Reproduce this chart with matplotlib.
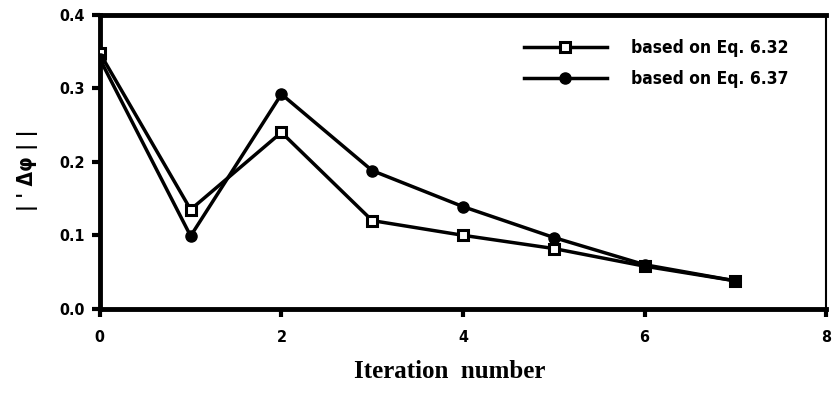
import matplotlib
matplotlib.use("Agg")
import matplotlib.pyplot as plt

iterations = [0, 1, 2, 3, 4, 5, 6, 7]
eq632 = [0.348, 0.135, 0.240, 0.120, 0.100, 0.082, 0.058, 0.038]
eq637 = [0.340, 0.099, 0.292, 0.188, 0.139, 0.097, 0.060, 0.038]
series_labels = ["based on Eq. 6.32", "based on Eq. 6.37"]
xticks = [0, 2, 4, 6, 8]
yticks = [0.0, 0.1, 0.2, 0.3, 0.4]

sans = "DejaVu Sans"
tick_font = dict(family=sans, weight="bold", stretch="condensed", size=11.5)

fig = plt.figure(figsize=(8.32, 4.0), dpi=100)
ax = fig.add_axes([0.120, 0.228, 0.873, 0.735])

ax.plot(iterations, eq632, color="black", lw=2.5, marker="s", ms=7.5,
        mfc="white", mec="black", mew=2.2, label=series_labels[0], zorder=3)
ax.plot(iterations, eq637, color="black", lw=2.5, marker="o", ms=8,
        mfc="black", mec="black", label=series_labels[1], zorder=3)

ax.set_xlim(0, 8)
ax.set_ylim(0, 0.4)
ax.set_xticks(xticks)
ax.set_yticks(yticks)
ax.set_xticklabels([str(v) for v in xticks], **tick_font)
ax.set_yticklabels([f"{v:.1f}" for v in yticks], **tick_font)
ax.tick_params(axis="x", direction="out", length=6, width=3, pad=9)
ax.tick_params(axis="y", direction="out", length=6, width=3, pad=5)

for side in ["left", "bottom", "top"]:
    ax.spines[side].set_linewidth(3.5)
ax.spines["right"].set_linewidth(1.5)

ax.set_xlabel("Iteration  number", fontfamily="Liberation Serif", fontweight="bold",
              fontsize=18)
ax.xaxis.set_label_coords(0.482, -0.175)
ax.set_ylabel("| ' \u0394\u03c6 | |", fontfamily=sans, fontweight="semibold",
              fontstretch="condensed", fontsize=15)
ax.yaxis.set_label_coords(-0.085, 0.47)

leg = ax.legend(loc="upper right", frameon=False,
                prop={"family": sans, "weight": "bold", "stretch": "condensed", "size": 12.5},
                handlelength=4.8, handletextpad=1.4, labelspacing=0.75,
                bbox_to_anchor=(0.97, 0.97))

fig.savefig("out.png", dpi=100)
